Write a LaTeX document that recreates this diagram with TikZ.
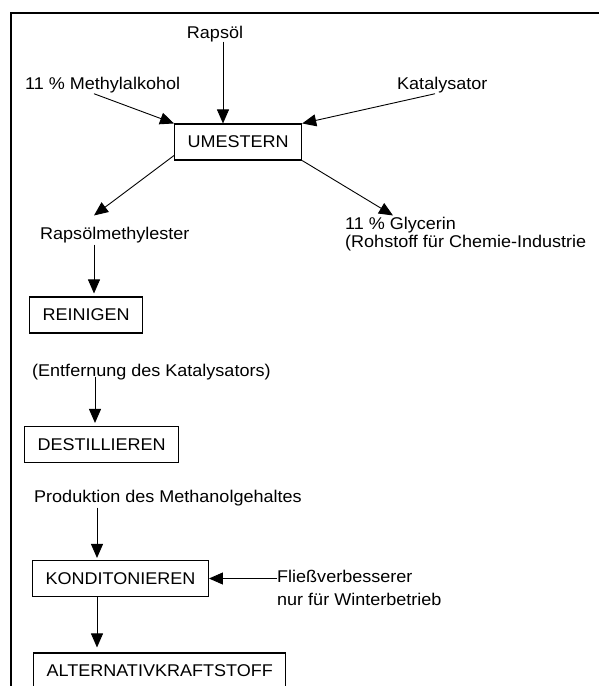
\documentclass[tikz,border=0pt]{standalone}
\usepackage{fontspec}
\setmainfont[FakeStretch=1.06]{Liberation Sans}
\usetikzlibrary{arrows.meta, positioning, calc}

\tikzset{
  stepbox/.style={draw, line width=1.1pt, inner xsep=13pt, inner ysep=0pt, minimum height=36pt, anchor=west},
  lbl/.style={inner sep=0pt, anchor=base west, align=left},
  arr/.style={-{Triangle[length=14pt, width=12pt]}, line width=0.9pt}
}

\begin{document}
\begin{tikzpicture}[x=1pt, y=-1pt, font=\fontsize{17}{20}\selectfont]
  \useasboundingbox (0,0) rectangle (599,686);
  % frame
  \draw[line width=2pt] (11,700) -- (11,13) -- (610,13);

  % inputs to the transesterification
  \node[lbl, anchor=base] (rapsoel) at (215,38) {Rapsöl};
  \node[lbl] (methyl) at (25,89) {11 \% Methylalkohol};
  \node[lbl] (kat) at (397,89) {Katalysator};
  \node[stepbox] (umestern) at (174,142) {UMESTERN};

  % products
  \node[lbl] (ester) at (40,239) {Rapsölmethylester};
  \node[lbl] (glyc) at (345,247) {11 \% Glycerin\\[-2pt](Rohstoff für Chemie-Industrie};

  % processing chain
  \node[stepbox] (reinigen) at (29,315) {REINIGEN};
  \node[lbl] (entf) at (32,376) {(Entfernung des Katalysators)};
  \node[stepbox] (dest) at (24,444.5) {DESTILLIEREN};
  \node[lbl] (prod) at (34,502) {Produktion des Methanolgehaltes};
  \node[stepbox] (kond) at (32,578.5) {KONDITONIEREN};
  \node[lbl] (fliess) at (277,605) {Fließverbesserer\\[3pt]nur für Winterbetrieb};
  \node[stepbox] (alt) at (33,671) {ALTERNATIVKRAFTSTOFF};

  % arrows
  \coordinate (rapsdrop) at ([xshift=8pt]rapsoel.south);
  \draw[arr] (rapsdrop) -- (rapsdrop |- umestern.north);
  \draw[arr] ([xshift=69pt, yshift=-1pt]methyl.south west) -- (umestern.north west);
  \draw[arr] ([xshift=38pt, yshift=-1pt]kat.south west) -- (umestern.north east);
  \draw[arr] ([yshift=5pt]umestern.south west) -- ([xshift=54pt, yshift=11pt]ester.north west);
  \draw[arr] (umestern.south east) -- ([xshift=48pt, yshift=1pt]glyc.north west);
  \draw[arr, shorten >=3pt] ([xshift=54pt, yshift=-2pt]ester.south west) -- ([xshift=65pt]reinigen.north west);
  \draw[arr, shorten >=3pt] ([xshift=63pt, yshift=3pt]entf.south west) -- ([xshift=71pt]dest.north west);
  \draw[arr, shorten >=2pt] ([xshift=63pt, yshift=-2pt]prod.south west) -- ([xshift=65pt]kond.north west);
  \draw[arr] (kond.east -| fliess.west) -- (kond.east);
  \draw[arr, shorten >=5pt] ([xshift=65pt]kond.south west) -- ([xshift=64pt]alt.north west);
\end{tikzpicture}
\end{document}
